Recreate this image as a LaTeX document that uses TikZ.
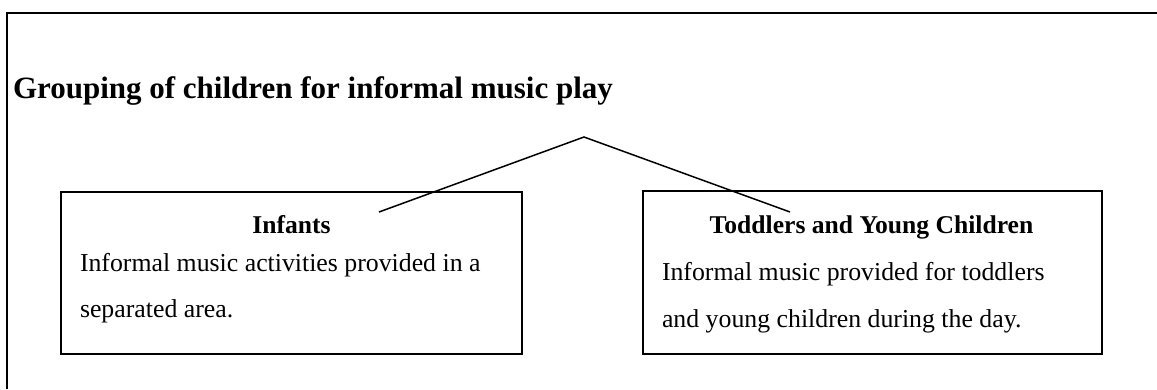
\documentclass[tikz,border=0pt]{standalone}
\usepackage{fontspec}
\setmainfont{Liberation Serif}
\begin{document}
\begin{tikzpicture}[x=1pt,y=-1pt,inner sep=0pt,outer sep=0pt,
  frame/.style={line width=2pt},
  box/.style={draw,line width=1.6pt,inner sep=0pt},
  link/.style={line width=1.5pt},
  maintitle/.style={font=\fontsize{31}{36}\selectfont\bfseries,anchor=base west},
  hd/.style={font=\fontsize{25.6}{30}\selectfont\bfseries,anchor=base},
  bd/.style={font=\fontsize{25.8}{30}\selectfont,anchor=base west}]
\useasboundingbox (0,0) rectangle (1157,389);
\draw[frame] (7,389) -- (7,13) -- (1157,13);
\node[maintitle] (title) at (13,98) {Grouping of children for informal music play};
\node[box,minimum width=461pt,minimum height=162pt] (lbox) at (291.5,273) {};
\node[box,minimum width=459pt,minimum height=163pt] (rbox) at (872.5,272.5) {};
\node[hd] (lt) at (291.5,233) {Infants};
\node[bd] (l1) at (80,271) {Informal music activities provided in a};
\node[bd] (l2) at (80,317) {separated area.};
\node[hd] (rt) at (871.5,233) {Toddlers and Young Children};
\node[bd] (r1) at (662,280) {Informal music provided for toddlers};
\node[bd] (r2) at (662,327) {and young children during the day.};
\coordinate (apex) at (584,137);
\coordinate (le) at (379,212);
\coordinate (re) at (790,212);
\draw[link] (le) -- (apex) -- (re);
\end{tikzpicture}
\end{document}
